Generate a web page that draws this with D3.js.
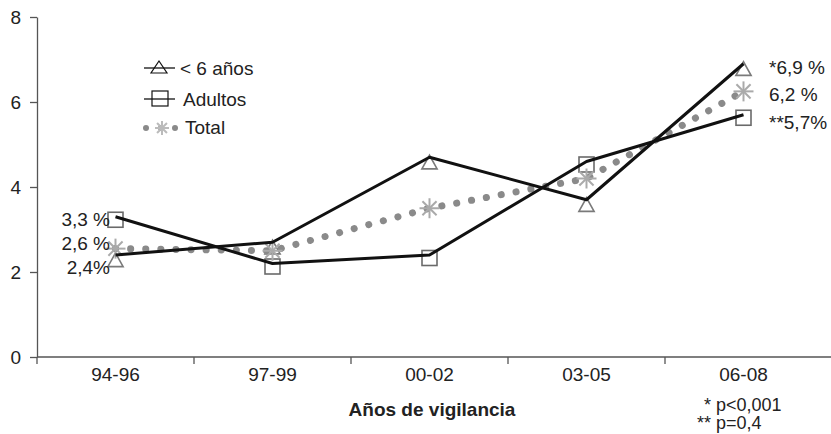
<!DOCTYPE html>
<html><head><meta charset="utf-8">
<script src="https://cdn.jsdelivr.net/npm/d3@7"></script>
<style>body{margin:0;background:#fff}svg{display:block;font-family:"Liberation Sans",Arial,sans-serif}</style>
</head><body>
<svg id="c" width="831" height="434"></svg>
<script>
const categories = ["94-96","97-99","00-02","03-05","06-08"];
const ninos = [2.4, 2.7, 4.7, 3.7, 6.9];
const adultos = [3.3, 2.2, 2.4, 4.6, 5.7];
const total = [2.55, 2.5, 3.5, 4.2, 6.25];
const yTicks = [0,2,4,6,8];
const leftLabels = ["3,3 %","2,6 %","2,4%"];
const rightLabels = ["*6,9 %","6,2 %","**5,7%"];
const legendLabels = ["< 6 años","Adultos","Total"];

const svg = d3.select("#c");
const x = d3.scaleBand().domain(categories).range([37, 822]);
const y = d3.scaleLinear().domain([0,8]).range([357, 17]);
const cx = d => x(d) + x.bandwidth()/2;
const axisColor = "#555";
const FS = 19;

// y axis
const ya = svg.append("g").attr("transform","translate(37,0)")
  .call(d3.axisLeft(y).tickValues(yTicks).tickSize(7).tickPadding(9).tickSizeOuter(0));
ya.select(".domain").attr("stroke",axisColor).attr("stroke-width",1.3);
ya.selectAll(".tick line").attr("stroke",axisColor).attr("stroke-width",1.3);
ya.selectAll("text").attr("font-size",FS).attr("fill","#222");

// x axis
const xa = svg.append("g").attr("transform","translate(0,357)")
  .call(d3.axisBottom(x).tickSize(0).tickPadding(11));
xa.select(".domain").attr("d","M37,0H831").attr("stroke",axisColor).attr("stroke-width",1.3);
xa.selectAll("text").attr("font-size",FS).attr("fill","#222");
const bounds = categories.map(c => x(c));
svg.append("g").selectAll("line").data(bounds).join("line")
  .attr("x1",d=>d).attr("x2",d=>d).attr("y1",357).attr("y2",364)
  .attr("stroke",axisColor).attr("stroke-width",1.3);

function asterisk(g, px, py, r, col){
  for (let k=0;k<4;k++){
    const a = Math.PI*k/4;
    g.append("line").attr("x1",px-r*Math.cos(a)).attr("y1",py-r*Math.sin(a))
      .attr("x2",px+r*Math.cos(a)).attr("y2",py+r*Math.sin(a))
      .attr("stroke",col||"#aaa").attr("stroke-width",2);
  }
}
function triangle(g, px, py, s){
  g.append("path").attr("d",`M${px},${py-s}L${px+s*0.95},${py+s*0.7}L${px-s*0.95},${py+s*0.7}Z`)
    .attr("fill","#fff").attr("fill-opacity",0.85).attr("stroke","#7a7a7a").attr("stroke-width",1.6);
}
function square(g, px, py, s){
  g.append("rect").attr("x",px-s).attr("y",py-s).attr("width",2*s).attr("height",2*s)
    .attr("fill","#fff").attr("fill-opacity",0.85).attr("stroke","#6a6a6a").attr("stroke-width",1.6);
}

const line = d3.line().x(d=>cx(d.c)).y(d=>y(d.v));
const totData = categories.map((c,i)=>({c,v:total[i]}));
const ninData = categories.map((c,i)=>({c,v:ninos[i]}));
const aduData = categories.map((c,i)=>({c,v:adultos[i]}));

// markers (under the lines, slightly below the vertex)
const mk = svg.append("g");
ninData.forEach(d=>triangle(mk, cx(d.c), y(d.v)+6, 8));
aduData.forEach(d=>square(mk, cx(d.c), y(d.v)+3, 7.5));

// Total dotted line
svg.append("path").datum(totData).attr("d",line).attr("fill","none")
  .attr("stroke","#8a8a8a").attr("stroke-width",7).attr("stroke-linecap","round")
  .attr("stroke-dasharray","0.1 15");
const ast = svg.append("g");
totData.forEach(d=>asterisk(ast, cx(d.c), y(d.v), 10));

[ninData, aduData].forEach(dd=>{
  svg.append("path").datum(dd).attr("d",line).attr("fill","none")
    .attr("stroke","#111").attr("stroke-width",3).attr("stroke-linejoin","round");
});

// value labels
const lbl = svg.append("g").attr("font-size",FS).attr("fill","#222");
const leftY = [adultos[0], total[0], ninos[0]];
const leftOff = [2, -6, 12];
lbl.selectAll(".l").data(leftLabels).join("text").attr("class","l")
  .attr("x",110).attr("text-anchor","end")
  .attr("y",(d,i)=>y(leftY[i])+7+leftOff[i]).text(d=>d);
const rightY = [ninos[4], total[4], adultos[4]];
const rightOff = [3, 3, 7];
lbl.selectAll(".r").data(rightLabels).join("text").attr("class","r")
  .attr("x",769).attr("y",(d,i)=>y(rightY[i])+7+rightOff[i]).text(d=>d);

// legend
const lg = svg.append("g");
const lgY = [68, 99, 127];
lg.append("line").attr("x1",144).attr("x2",175).attr("y1",lgY[0]).attr("y2",lgY[0]).attr("stroke","#111").attr("stroke-width",1.3);
lg.append("path").attr("d",`M159,${lgY[0]-7}L167,${lgY[0]+5}L151,${lgY[0]+5}Z`).attr("fill","none").attr("stroke","#111").attr("stroke-width",1.2);
lg.append("line").attr("x1",144).attr("x2",175).attr("y1",lgY[1]).attr("y2",lgY[1]).attr("stroke","#111").attr("stroke-width",1.3);
lg.append("rect").attr("x",152).attr("y",lgY[1]-8).attr("width",16).attr("height",15).attr("fill","none").attr("stroke","#111").attr("stroke-width",1.2);
[146,175].forEach(px=>lg.append("circle").attr("cx",px).attr("cy",lgY[2]+1).attr("r",3).attr("fill","#8a8a8a"));
lg.append("circle").attr("cx",161).attr("cy",lgY[2]+1).attr("r",3).attr("fill","#8a8a8a");
asterisk(lg, 162, lgY[2]+1, 7, "#bbb");
const lgX = [180, 183, 185];
lg.selectAll("text").data(legendLabels).join("text")
  .attr("x",(d,i)=>lgX[i]).attr("y",(d,i)=>lgY[i]+7).attr("font-size",FS).attr("fill","#222").text(d=>d);

// axis title and notes
svg.append("text").attr("x",432).attr("y",416).attr("text-anchor","middle")
  .attr("font-size",FS).attr("font-weight","bold").attr("fill","#222").text("Años de vigilancia");
svg.append("text").attr("x",704).attr("y",411).attr("font-size",18).attr("fill","#222").text("* p<0,001");
svg.append("text").attr("x",697).attr("y",429).attr("font-size",18).attr("fill","#222").text("** p=0,4");
</script>
</body></html>
